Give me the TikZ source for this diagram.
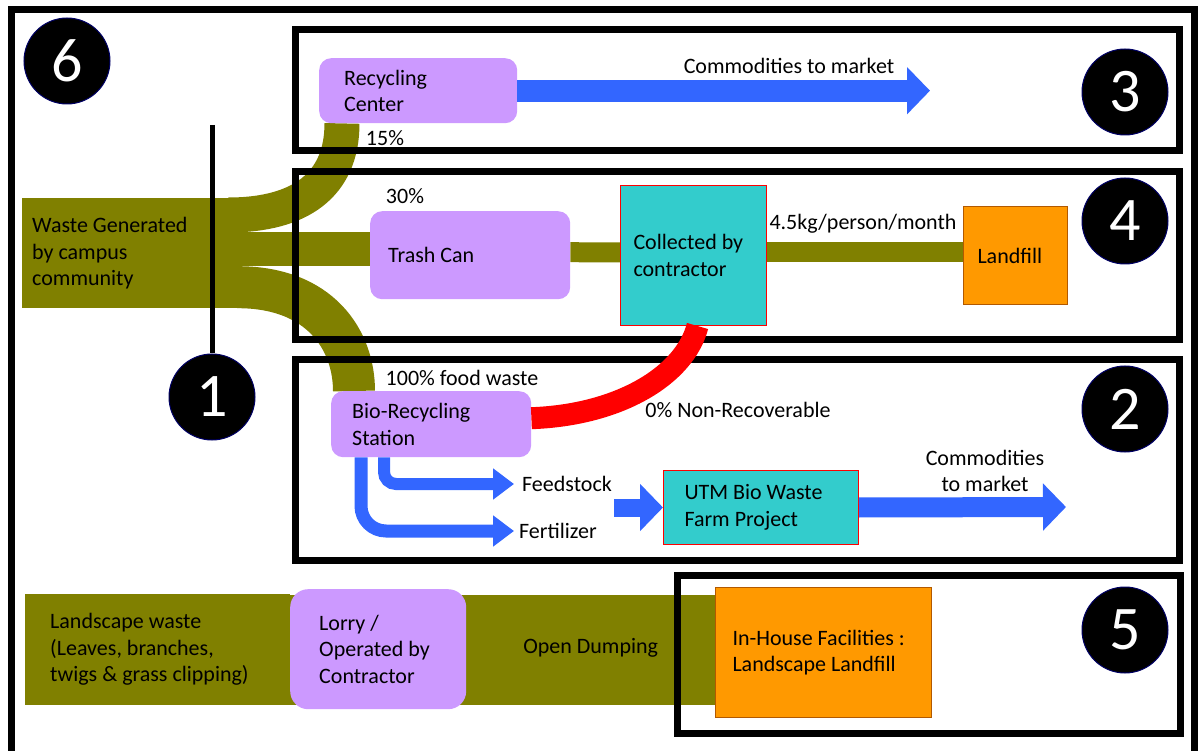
\documentclass[tikz,border=0pt]{standalone}
\usepackage{fontspec}
\setmainfont{Carlito}
\usetikzlibrary{arrows.meta,backgrounds}

\definecolor{wasteolive}{HTML}{808000}
\definecolor{boxpurple}{HTML}{CC99FF}
\definecolor{boxcyan}{HTML}{33CCCC}
\definecolor{boxorange}{HTML}{FF9900}
\definecolor{flowblue}{HTML}{3366FF}

\tikzset{
  every node/.style={font=\fontsize{22}{26.5}\selectfont},
  lbl/.style={inner sep=2pt},
  purplebox/.style={fill=boxpurple, rounded corners=12pt, align=flush left, anchor=north west},
  cyanbox/.style={fill=boxcyan, draw=red, line width=1pt, align=flush left, anchor=north west},
  orangebox/.style={fill=boxorange, draw=orange!70!black, line width=1pt, align=flush left, anchor=north west},
  olivebox/.style={fill=wasteolive, align=flush left, anchor=north west},
  numcircle/.style={circle, fill=black, draw=blue!40!black, line width=1pt, text=white, minimum size=86pt, inner sep=0pt, font=\fontsize{62}{62}\selectfont},
  frame/.style={line width=7pt},
  flow/.style={draw=wasteolive},
  bluearrow/.style={draw=flowblue, line width=20pt, -{Triangle[length=23pt,width=46pt]}}
}

\begin{document}
\begin{tikzpicture}[x=1pt,y=-1pt]
\useasboundingbox (0,0) rectangle (1203,751);

\draw[frame] (11,760) |- (1194,10) -- (1194,760);
\foreach \xa/\ya/\xb/\yb in {295/30/1179/151, 295/172/1179/340, 295/360/1179/560, 677/575/1180/733}
  \draw[frame] (\xa,\ya) rectangle (\xb,\yb);

\node[olivebox, text width=198pt, inner xsep=10pt, minimum height=110pt] (waste) at (22,198) {Waste Generated\\by campus\\community};
\node[purplebox, text width=148pt, inner xsep=25pt, minimum height=65pt] (recyc) at (319,58) {Recycling\\Center};
\node[purplebox, text width=164pt, inner xsep=18pt, minimum height=88pt] (trash) at (370,211) {Trash Can};
\node[cyanbox, text width=120pt, inner xsep=13pt, minimum height=140pt] (coll) at (620,185) {Collected by\\contractor};
\node[orangebox, text width=76pt, inner xsep=14pt, minimum height=98pt] (landfill) at (963,206) {Landfill};
\node[purplebox, text width=158pt, inner xsep=21pt, minimum height=66pt] (bio) at (331,391) {Bio-Recycling\\Station};
\node[cyanbox, text width=153pt, inner xsep=21pt, minimum height=74pt] (utm) at (663,470) {UTM Bio Waste\\Farm Project};
\node[olivebox, text width=215pt, inner xsep=25pt, minimum height=111pt] (landscape) at (25,594) {Landscape waste\\(Leaves, branches,\\twigs \& grass clipping)};
\node[purplebox, rounded corners=18pt, text width=118pt, inner xsep=29pt, minimum height=120pt] (lorry) at (290,589) {Lorry /\\Operated by\\Contractor};
\node[orangebox, text width=182pt, inner xsep=17pt, minimum height=130pt] (inhouse) at (715,587) {In-House Facilities :\\Landscape Landfill};

\begin{scope}[on background layer]
\draw[flow, line width=35pt] ([xshift=-12pt,yshift=-17pt]waste.north east) .. controls (300,215) and (342,185) .. ([xshift=23pt]recyc.south west);
\draw[flow, line width=34pt] ([yshift=4pt]waste.east) -- ([yshift=4pt]waste.east -| trash.west);
\draw[flow, line width=42pt] ([xshift=-3pt,yshift=-34pt]waste.east) .. controls (320,287) and (354,340) .. ([xshift=23pt]bio.north west);
\draw[flow, line width=20pt] ([yshift=3pt]trash.east) -- ([yshift=3pt]coll.west);
\draw[flow, line width=20pt] ([yshift=3pt]coll.east) -- ([yshift=3pt]coll.east -| landfill.west);
\draw[flow, line width=110pt] (landscape.east) -- (landscape.east -| inhouse.west);
\end{scope}

\draw[red, line width=22pt] ([xshift=4pt]coll.south) .. controls (685,375) and (620,415) .. ([yshift=6pt]bio.east);

\node[lbl] (p15) at (385,138) {15\%};
\node[lbl] (p30) at (405,196) {30\%};
\node[lbl] (food) at (462,378) {100\% food waste};
\node[lbl] (nonrec) at (738,410) {0\% Non-Recoverable};
\node[lbl] (rate) at (863,224) {4.5kg/person/month};
\node[lbl] (mkt1label) at (789,66) {Commodities to market};
\node[lbl, align=center] (mkt2label) at (985,471) {Commodities\\to market};
\node[lbl, anchor=west] (feed) at (520,484) {Feedstock};
\node[lbl, anchor=west] (fert) at (517,531) {Fertilizer};
\path (lorry.east) -- (inhouse.west) node[lbl, midway, yshift=3pt] (dump) {Open Dumping};

\coordinate (mkt1) at (930,91);
\coordinate (mkt2) at (1066,507);
\draw[bluearrow, line width=22pt] (recyc.east) -- (recyc.east -| mkt1);
\draw[bluearrow] (utm.east) -- (mkt2);
\draw[bluearrow, line width=18pt] (feed.east |- utm.west) -- (utm.west);
\draw[bluearrow, line width=12pt, rounded corners=12pt, -{Triangle[length=21pt,width=30pt]}] ([xshift=53pt]bio.south west) |- ([xshift=-6pt]feed.west);
\draw[bluearrow, line width=13pt, rounded corners=25pt, -{Triangle[length=21pt,width=30pt]}] ([xshift=30pt]bio.south west) |- ([xshift=-3pt]fert.west);

\foreach \n/\x/\y in {6/67/61, 3/1125/92, 4/1125/221, 2/1125/409, 5/1125/630, 1/212/397}
  \node[numcircle] (c\n) at (\x,\y) {\n};
\coordinate (stem) at (212,125);
\draw[line width=5pt] (stem) -- (c1.north);
\end{tikzpicture}
\end{document}
